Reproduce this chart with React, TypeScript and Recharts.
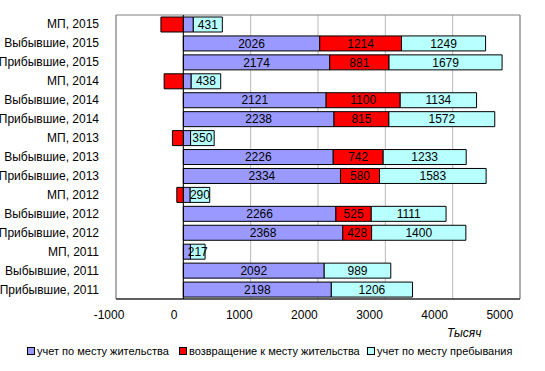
import { BarChart, Bar, XAxis, YAxis, CartesianGrid, LabelList, ReferenceLine, ReferenceArea } from 'recharts';

const categories = [
  'МП, 2015', 'Выбывшие, 2015', 'Прибывшие, 2015',
  'МП, 2014', 'Выбывшие, 2014', 'Прибывшие, 2014',
  'МП, 2013', 'Выбывшие, 2013', 'Прибывшие, 2013',
  'МП, 2012', 'Выбывшие, 2012', 'Прибывшие, 2012',
  'МП, 2011', 'Выбывшие, 2011', 'Прибывшие, 2011',
];

// учет по месту жительства
const residence = [148, 2026, 2174, 117, 2121, 2238, 108, 2226, 2334, 102, 2266, 2368, 106, 2092, 2198];
// возвращение к месту жительства
const returning = [-333, 1214, 881, -285, 1100, 815, -162, 742, 580, -97, 525, 428, 0, 0, 0];
// учет по месту пребывания
const stay = [431, 1249, 1679, 438, 1134, 1572, 350, 1233, 1583, 290, 1111, 1400, 217, 989, 1206];

const xTicks = [-1000, 0, 1000, 2000, 3000, 4000, 5000];

const COLORS = ['#9999FF', '#FF0000', '#B8FFFF'];
const LEGEND = ['учет по месту жительства', 'возвращение к месту жительства', 'учет по месту пребывания'];

const data = categories.map((name, i) => ({
  name,
  residence: residence[i],
  returning: returning[i],
  stay: stay[i],
}));

const FONT = '"Liberation Sans", Arial, sans-serif';

// labels on МП rows are only shown for the last series
function segmentLabel(hideOnMP: boolean) {
  return (props: any) => {
    const { x, y, width, height, value, index } = props;
    if (!value) return null;
    if (hideOnMP && categories[index].startsWith('МП')) return null;
    return (
      <text
        x={x + width / 2}
        y={y + height / 2 + 1}
        textAnchor="middle"
        dominantBaseline="middle"
        fontSize={12}
        fontFamily={FONT}
        fill="#000"
      >
        {value}
      </text>
    );
  };
}

function CategoryTick({ x, y, payload }: any) {
  return (
    <text x={x - 9} y={y} dy={4} textAnchor="end" fontSize={12} fontFamily={FONT} fill="#000">
      {payload.value}
    </text>
  );
}

// value labels sit slightly left of their gridlines, more so to the right
function ValueTick({ x, y, payload, index }: any) {
  return (
    <text x={x - 7 - index * 2.2} y={y} dy={12} textAnchor="middle" fontSize={12} fontFamily={FONT} fill="#000">
      {payload.value}
    </text>
  );
}

export default function App() {
  return (
    <div style={{ position: 'absolute', left: 0, top: 0, width: 545, height: 371, background: '#fff', fontFamily: FONT }}>
      <BarChart
        width={545}
        height={371}
        data={data}
        layout="vertical"
        stackOffset="sign"
        margin={{ top: 15, right: 25, bottom: 42, left: 0 }}
      >
        <ReferenceArea x1={-1000} x2={5000} fill="none" stroke="#808080" strokeWidth={1} ifOverflow="visible" />
        <CartesianGrid horizontal={false} stroke="#b8b8b8" />
        <XAxis
          type="number"
          domain={[-1000, 5000]}
          ticks={xTicks}
          interval={0}
          height={30}
          tickLine={false}
          axisLine={{ stroke: '#000' }}
          tick={<ValueTick />}
          tickMargin={2}
        />
        <YAxis
          type="category"
          dataKey="name"
          width={116}
          tickLine={false}
          axisLine={false}
          interval={0}
          tick={<CategoryTick />}
        />
        <ReferenceLine x={0} stroke="#000" />
        <Bar dataKey="residence" stackId="a" fill={COLORS[0]} stroke="#000" strokeWidth={1} barSize={15} isAnimationActive={false}>
          <LabelList dataKey="residence" content={segmentLabel(true)} />
        </Bar>
        <Bar dataKey="returning" stackId="a" fill={COLORS[1]} stroke="#000" strokeWidth={1} barSize={15} isAnimationActive={false}>
          <LabelList dataKey="returning" content={segmentLabel(true)} />
        </Bar>
        <Bar dataKey="stay" stackId="a" fill={COLORS[2]} stroke="#000" strokeWidth={1} barSize={15} isAnimationActive={false}>
          <LabelList dataKey="stay" content={segmentLabel(false)} />
        </Bar>
      </BarChart>
      <div style={{ position: 'absolute', left: 447, top: 326, fontSize: 12, fontStyle: 'italic' }}>Тысяч</div>
      <div style={{ position: 'absolute', left: 0, top: 345, width: 545, fontSize: 11 }}>
        {LEGEND.map((label, i) => (
          <div
            key={label}
            style={{ position: 'absolute', left: [27, 179, 367][i], top: 0, display: 'flex', alignItems: 'center', whiteSpace: 'nowrap' }}
          >
            <span style={{ width: 6, height: 6, background: COLORS[i], border: '1px solid #000', marginRight: 2 }} />
            <span>{label}</span>
          </div>
        ))}
      </div>
    </div>
  );
}
